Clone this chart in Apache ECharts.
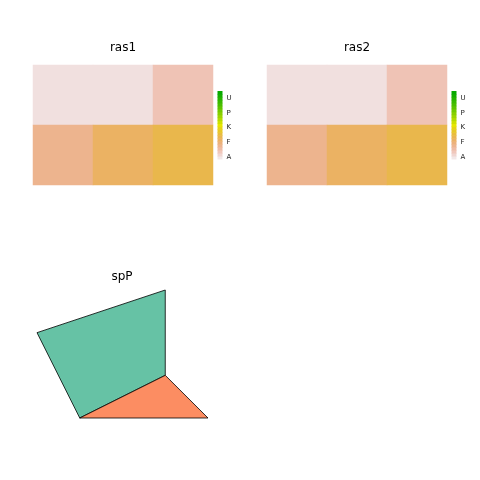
<!DOCTYPE html>
<html><head><meta charset="utf-8">
<script src="https://cdn.jsdelivr.net/npm/echarts@6/dist/echarts.min.js"></script>
<style>html,body{margin:0;padding:0;background:#fff}#c{width:480px;height:480px}</style>
</head><body><div id="c"></div>
<script>
// ---- data ----
const rasterCols = ['c1','c2','c3'];
const rasterRows = ['bottom','top'];
const ras1Top = [1.2, 1.2, 3.1];
const ras1Bottom = [4.9, 7.0, 8.1];
const ras2Top = [1.2, 1.2, 3.1];
const ras2Bottom = [4.9, 7.0, 8.1];
const keyMin = 0.3, keyMax = 23.4;
const keyTickValues = [1, 6, 11, 16, 21];
const keyTickLabels = ['A', 'F', 'K', 'P', 'U'];
const polyNames = ['Sr1', 'Sr2'];
const poly1X = [2, 4, 4, 1];
const poly1Y = [2, 3, 5, 4];
const poly2X = [5, 4, 2];
const poly2Y = [2, 3, 2];
const polyColors = ['#66C2A5', '#FC8D62'];

// ---- colours (reversed terrain palette) ----
function hsv2hex(h, s, v) {
  const i = Math.floor(h * 6), f = h * 6 - i;
  const p = v * (1 - s), q = v * (1 - f * s), t = v * (1 - (1 - f) * s);
  let r, g, b;
  switch (((i % 6) + 6) % 6) {
    case 0: r = v; g = t; b = p; break;
    case 1: r = q; g = v; b = p; break;
    case 2: r = p; g = v; b = t; break;
    case 3: r = p; g = q; b = v; break;
    case 4: r = t; g = p; b = v; break;
    default: r = v; g = p; b = q;
  }
  const h2 = x => ('0' + Math.round(x * 255).toString(16)).slice(-2);
  return '#' + h2(r) + h2(g) + h2(b);
}
function terrainAt(f) {
  if (f < 0.5) { const g = f / 0.5; return hsv2hex(g / 6, g, 0.95 - 0.05 * g); }
  const g = (f - 0.5) / 0.5; return hsv2hex(1 / 6 + g / 6, 1, 0.9 - 0.25 * g);
}
const stops = [];
for (let i = 0; i <= 40; i++) stops.push(terrainAt(i / 40));

function cells(top, bottom) {
  const d = [];
  top.forEach((v, i) => d.push([i, 1, v]));
  bottom.forEach((v, i) => d.push([i, 0, v]));
  return d;
}
const nBins = 23;
const keyBins = [];
for (let i = 0; i < nBins; i++) {
  const lo = keyMin + (keyMax - keyMin) * i / nBins;
  const hi = keyMin + (keyMax - keyMin) * (i + 1) / nBins;
  keyBins.push([lo, hi, (lo + hi) / 2]);
}
const polyData = polyNames.map((n, i) => ({ name: n, value: [i, 0] }));
const polyX = [poly1X, poly2X], polyY = [poly1Y, poly2Y];

const font = 'DejaVu Sans';
const hiddenAxis = { show: false };
function titleAt(text, x, y) {
  return { text, left: x, top: y, textAlign: 'center', padding: 0,
    textStyle: { fontSize: 12, fontWeight: 'normal', fontFamily: font, color: '#000' } };
}
function keyYAxis(gi) {
  return { type: 'value', gridIndex: gi, min: keyMin, max: keyMax, position: 'right',
    axisLine: { show: false }, splitLine: { show: false },
    axisTick: { show: false },
    axisLabel: { show: true, customValues: keyTickValues, margin: 4, fontSize: 7, fontFamily: font, color: '#222',
      formatter: v => keyTickLabels[keyTickValues.indexOf(Math.round(v))] || '' } };
}
function keySeries(gi) {
  return { type: 'custom', xAxisIndex: gi, yAxisIndex: gi, data: keyBins, silent: true,
    renderItem: (params, api) => {
      const p0 = api.coord([0, api.value(0)]);
      const p1 = api.coord([1, api.value(1)]);
      return { type: 'rect', shape: { x: p0[0], y: p1[1], width: p1[0] - p0[0], height: p0[1] - p1[1] + 0.5 },
        style: { fill: api.visual('color') } };
    } };
}

const chart = echarts.init(document.getElementById('c'), null, { renderer: 'canvas' });
chart.setOption({
  backgroundColor: '#fff',
  animation: false,
  title: [titleAt('ras1', 123, 42), titleAt('ras2', 357, 42), titleAt('spP', 122, 271)],
  grid: [
    { left: 33, top: 65, width: 180, height: 120 },
    { left: 267, top: 65, width: 180, height: 120 },
    { left: 217.5, top: 91, width: 5, height: 68 },
    { left: 451.5, top: 91, width: 5, height: 68 },
    { left: 37, top: 290, width: 171, height: 128 }
  ],
  xAxis: [
    { type: 'category', gridIndex: 0, data: rasterCols, show: false },
    { type: 'category', gridIndex: 1, data: rasterCols, show: false },
    { type: 'value', gridIndex: 2, min: 0, max: 1, show: false },
    { type: 'value', gridIndex: 3, min: 0, max: 1, show: false },
    { type: 'value', gridIndex: 4, min: 1, max: 5, show: false }
  ],
  yAxis: [
    { type: 'category', gridIndex: 0, data: rasterRows, show: false },
    { type: 'category', gridIndex: 1, data: rasterRows, show: false },
    keyYAxis(2), keyYAxis(3),
    { type: 'value', gridIndex: 4, min: 2, max: 5, show: false }
  ],
  visualMap: {
    type: 'continuous', show: false, min: keyMin, max: keyMax, dimension: 2,
    seriesIndex: [0, 1, 2, 3], inRange: { color: stops }
  },
  series: [
    { type: 'heatmap', xAxisIndex: 0, yAxisIndex: 0, data: cells(ras1Top, ras1Bottom), silent: true },
    { type: 'heatmap', xAxisIndex: 1, yAxisIndex: 1, data: cells(ras2Top, ras2Bottom), silent: true },
    keySeries(2), keySeries(3),
    { type: 'custom', xAxisIndex: 4, yAxisIndex: 4, data: polyData, silent: true,
      renderItem: (params, api) => {
        const i = params.dataIndex;
        const pts = polyX[i].map((x, k) => api.coord([x, polyY[i][k]]));
        return { type: 'polygon', shape: { points: pts },
          style: { fill: polyColors[i], stroke: '#000', lineWidth: 0.8 } };
      } }
  ]
});
</script></body></html>
